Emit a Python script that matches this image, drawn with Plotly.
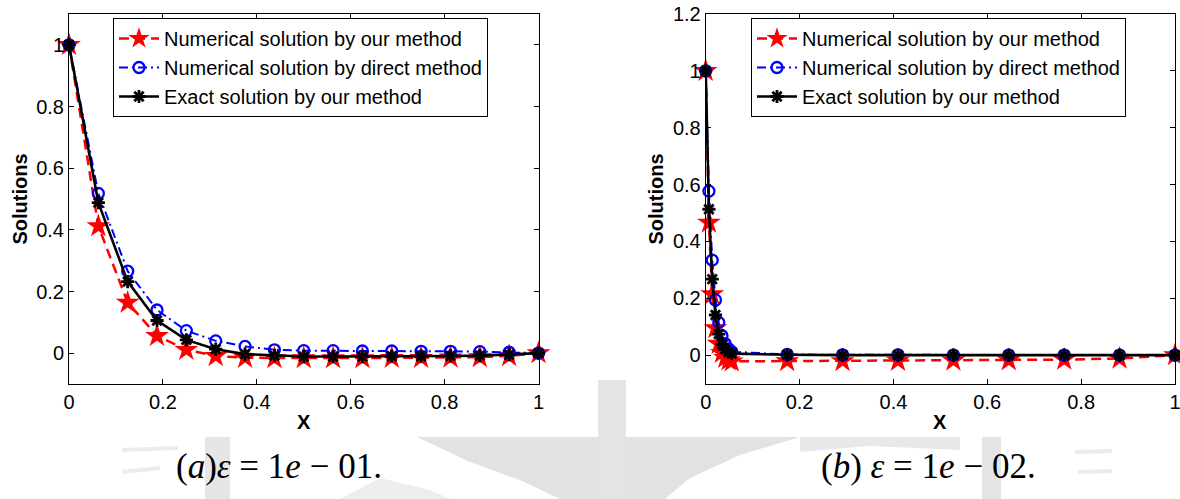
import plotly.graph_objects as go

W, H = 1180, 499

# ---- (a) eps = 1e-01, uniform mesh ----
xa = [0.0, 0.0625, 0.125, 0.1875, 0.25, 0.3125, 0.375, 0.4375, 0.5,
      0.5625, 0.625, 0.6875, 0.75, 0.8125, 0.875, 0.9375, 1.0]
ours_a = [1.0, 0.412, 0.164, 0.056, 0.011, -0.009, -0.015, -0.016, -0.016,
          -0.016, -0.016, -0.015, -0.015, -0.014, -0.013, -0.009, 0.0]
direct_a = [1.0, 0.518, 0.266, 0.140, 0.073, 0.040, 0.022, 0.011, 0.008,
            0.008, 0.007, 0.007, 0.006, 0.006, 0.005, 0.003, 0.0]
exact_a = [1.0, 0.488, 0.232, 0.106, 0.043, 0.013, -0.003, -0.008, -0.011,
           -0.011, -0.011, -0.010, -0.010, -0.009, -0.008, -0.005, 0.0]

# ---- (b) eps = 1e-02, layer-adapted mesh ----
xb = [0.0, 0.0069, 0.0139, 0.0208, 0.0278, 0.0347, 0.0416, 0.0486, 0.0555,
      0.1736, 0.2916, 0.4097, 0.5278, 0.6458, 0.7639, 0.8819, 1.0]
ours_b = [1.0, 0.466, 0.214, 0.095, 0.040, 0.008, -0.010, -0.018, -0.022,
          -0.021, -0.021, -0.020, -0.019, -0.018, -0.016, -0.012, 0.0]
direct_b = [1.0, 0.577, 0.334, 0.194, 0.115, 0.068, 0.040, 0.022, 0.012,
            0.002, 0.001, 0.001, 0.0, 0.0, 0.0, 0.0, 0.0]
exact_b = [1.0, 0.513, 0.267, 0.141, 0.074, 0.038, 0.020, 0.010, 0.005,
           0.001, 0.0, 0.0, 0.0, 0.0, 0.0, 0.0, 0.0]

names = ["Numerical solution by our method",
         "Numerical solution by direct method",
         "Exact solution by our method"]
x_ticks = [0, 0.2, 0.4, 0.6, 0.8, 1]
captions = ["(<i>a</i>)<i>ε</i> = 1<i>e</i> − 01.",
            "(<i>b</i>) <i>ε</i> = 1<i>e</i> − 02."]

SANS = "Liberation Sans"
SERIF = "Liberation Serif"


def px(x, y):
    return x / W, 1 - y / H


fig = go.Figure()


def add_series(x, ours, direct, exact, xa_name, ya_name, legend):
    fig.add_trace(go.Scatter(
        x=x, y=ours, name=names[0], mode="lines+markers",
        xaxis=xa_name, yaxis=ya_name, legend=legend, cliponaxis=False,
        line=dict(color="#ff0000", width=2.5, dash="10px,6px"),
        marker=dict(symbol="star", size=18, color="#ff0000",
                    line=dict(width=0))))
    fig.add_trace(go.Scatter(
        x=x, y=direct, name=names[1], mode="lines+markers",
        xaxis=xa_name, yaxis=ya_name, legend=legend, cliponaxis=False,
        line=dict(color="#0000ff", width=2, dash="9px,4px,2px,4px"),
        marker=dict(symbol="circle-open", size=11, color="#0000ff",
                    line=dict(width=2.3, color="#0000ff"))))
    fig.add_trace(go.Scatter(
        x=x, y=exact, name=names[2], mode="lines+markers",
        xaxis=xa_name, yaxis=ya_name, legend=legend, cliponaxis=False,
        line=dict(color="#000000", width=2.6),
        marker=dict(symbol="asterisk-open", size=11, color="#000000",
                    line=dict(width=2.8, color="#000000"))))


add_series(xa, ours_a, direct_a, exact_a, "x", "y", "legend")
add_series(xb, ours_b, direct_b, exact_b, "x2", "y2", "legend2")

axis_common = dict(
    showline=True, linecolor="black", linewidth=1, mirror="ticks",
    ticks="inside", ticklen=5, tickwidth=1, tickcolor="black",
    showgrid=False, zeroline=False, automargin=False,
    ticklabeloverflow="allow",
    tickfont=dict(family=SANS, size=20, color="black"),
)

legend_common = dict(
    xanchor="left", yanchor="top",
    bgcolor="white", bordercolor="black", borderwidth=1,
    font=dict(family=SANS, size=20, color="black"),
    tracegroupgap=0, itemwidth=40,
)

fig.update_layout(
    width=W, height=H,
    margin=dict(l=0, r=0, t=0, b=0, autoexpand=False),
    paper_bgcolor="white", plot_bgcolor="white",
    xaxis=dict(domain=[69 / W, 538.5 / W], range=[0, 1], tickvals=x_ticks,
               anchor="y", **axis_common),
    yaxis=dict(domain=[1 - 384 / H, 1 - 14 / H], range=[-0.1, 1.1],
               tick0=0, dtick=0.2, anchor="x", **axis_common),
    xaxis2=dict(domain=[705.7 / W, 1175 / W], range=[0, 1], tickvals=x_ticks,
                anchor="y2", **axis_common),
    yaxis2=dict(domain=[1 - 383.5 / H, 1 - 14 / H], range=[-0.1, 1.2],
                tick0=0, dtick=0.2, anchor="x2", **axis_common),
    legend=dict(x=113 / W, y=1 - 18 / H, **legend_common),
    legend2=dict(x=751 / W, y=1 - 18 / H, **legend_common),
)

# axis titles and sub-figure captions
ann = []
for cx, cy in [(303.5, 422), (940, 422)]:
    x, y = px(cx, cy)
    ann.append(dict(x=x, y=y, xref="paper", yref="paper", text="<b>X</b>",
                    showarrow=False, xanchor="center", yanchor="middle",
                    font=dict(family=SANS, size=20, color="black")))
for cx, cy in [(19.5, 199), (655.5, 199)]:
    x, y = px(cx, cy)
    ann.append(dict(x=x, y=y, xref="paper", yref="paper",
                    text="<b>Solutions</b>", textangle=-90,
                    showarrow=False, xanchor="center", yanchor="middle",
                    font=dict(family=SANS, size=20, color="black")))
for (cx, cy), txt in zip([(279, 466), (928, 466)], captions):
    x, y = px(cx, cy)
    ann.append(dict(x=x, y=y, xref="paper", yref="paper", text=txt,
                    showarrow=False, xanchor="center", yanchor="middle",
                    font=dict(family=SERIF, size=35, color="black")))
fig.update_layout(annotations=ann)


# faint background emblem behind the lower strip
def path(points):
    parts = []
    for i, (x, y) in enumerate(points):
        fx, fy = px(x, y)
        parts.append(("M" if i == 0 else "L") + f"{fx:.5f},{fy:.5f}")
    return " ".join(parts) + " Z"


emblem = [
    ([(205, 437), (230, 437), (230, 499), (205, 499)], "#e6e6e6"),
    ([(417, 437), (598, 437), (598, 499), (560, 499), (520, 480),
      (470, 462)], "#e2e2e2"),
    ([(340, 499), (380, 478), (430, 490), (450, 499)], "#eeeeee"),
    ([(598, 380), (626, 380), (626, 499), (598, 499)], "#e4e4e4"),
    ([(626, 437), (800, 437), (740, 455), (690, 478), (665, 499),
      (626, 499)], "#e2e2e2"),
    ([(800, 437), (960, 437), (960, 450), (870, 446), (800, 452)], "#e8e8e8"),
    ([(982, 437), (1001, 437), (1001, 499), (982, 499)], "#e4e4e4"),
    ([(122, 448), (178, 446), (178, 450), (122, 452)], "#ececec"),
    ([(122, 470), (160, 466), (160, 470), (122, 474)], "#ececec"),
    ([(1075, 450), (1112, 449), (1112, 453), (1075, 454)], "#ececec"),
    ([(1078, 470), (1112, 469), (1112, 473), (1078, 474)], "#ececec"),
]
fig.update_layout(shapes=[
    dict(type="path", path=path(pts), xref="paper", yref="paper",
         fillcolor=c, line=dict(width=0), layer="below")
    for pts, c in emblem
])

fig.write_html("out.html")
